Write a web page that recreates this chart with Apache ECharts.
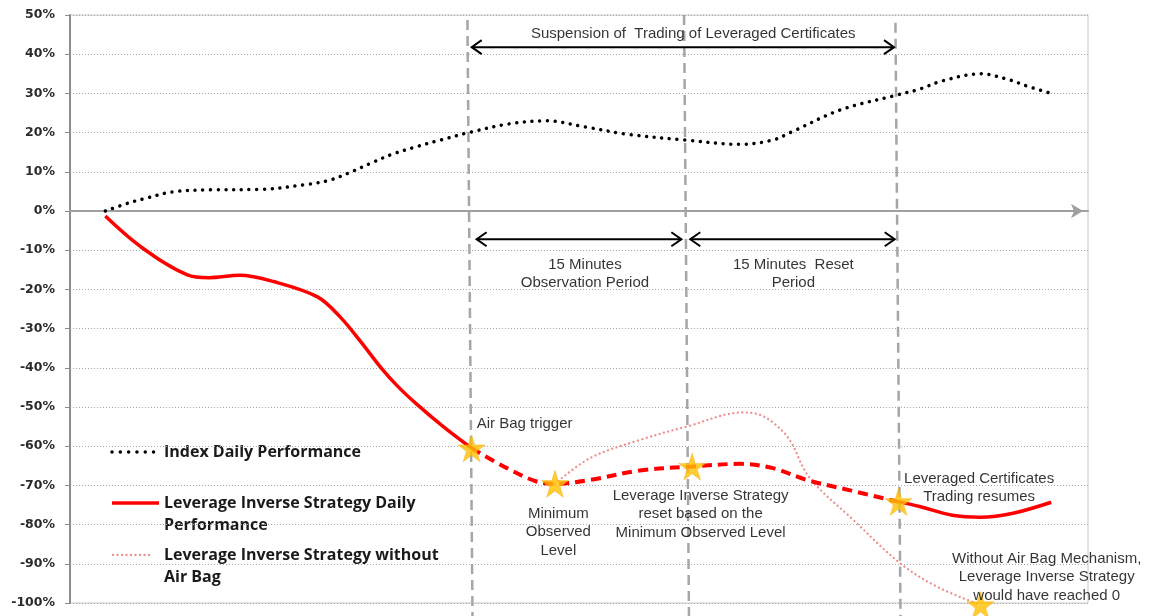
<!DOCTYPE html>
<html><head><meta charset="utf-8">
<script src="https://cdn.jsdelivr.net/npm/echarts@6/dist/echarts.min.js"></script>
<style>html,body{margin:0;padding:0;background:#fff}#c{width:1151px;height:616px}</style>
</head><body><div id="c"></div>
<script>
// ---- axis setup (x in minutes, y in %) ----
const yMin = -100, yMax = 50, yStep = 10;
const xMin = 0, xMax = 72;

// ---- series values [minute, %] ----
const indexPerf = [[2.5,0],[4.1,2],[5.2,3.1],[7.3,4.9],[10,5.4],[13.4,5.5],[16.8,6.8],[18.4,7.9],[19.9,10],[21.4,12.4],[22.8,14.5],[24.5,16.4],[26.2,18.1],[28.2,20],[31,22.2],[33.7,23],[36.5,21.4],[39.4,19.6],[43.5,18.1],[47.4,17],[49.7,18.1],[51,20.1],[54.5,25.8],[58.5,29.6],[60.1,31.1],[61.7,33.2],[64.4,35],[66.5,33.4],[67.5,32.1],[69.2,30.2]];
const strategyBefore = [[2.5,-1.3],[5,-9.1],[8.3,-16.3],[9.8,-17],[12,-16.4],[14.4,-18],[17.5,-21.9],[19.1,-27],[20.6,-33.5],[22,-40],[23.2,-44.8],[24.5,-49.2],[26.4,-55],[28.4,-60.5]];
const strategyAirBag = [[28.4,-60.5],[30.9,-65.6],[33,-69],[34.3,-69.6],[36.8,-68.6],[40.3,-66.2],[44,-65.2],[47.4,-64.5],[49.7,-65.6],[52.1,-68.6],[54.5,-70.7],[58.6,-74.2]];
const strategyAfter = [[58.6,-74.2],[60.1,-75.4],[62.4,-77.6],[64.4,-78.1],[66.7,-77.1],[69.4,-74.3]];
const withoutAirBag = [[34.3,-69.6],[36.8,-63],[40.3,-58.4],[43.6,-55],[47.6,-51.4],[48.8,-52],[49.8,-54.2],[50.9,-58.4],[52.3,-68],[55.4,-78.8],[58.7,-89.8],[61.3,-95.8],[64.4,-100.5]];
const keyEvents = [[28.4,-60.5],[34.3,-69.6],[44,-65.2],[58.6,-74.2],[64.4,-100.5]];

// ---- reference lines: [x at top, x at bottom, top %] ----
const phaseLines = [[28.11,28.47,48.7],[43.43,43.78,50],[58.38,58.74,48]];
// ---- period arrows: [x start, x end, level %] ----
const periodArrows = [[28.34,58.35,41.8],[28.69,43.31,-7.2],[43.8,58.4,-7.2]];

// ---- annotations ----
const noteTexts = [
  'Suspension of  Trading of Leveraged Certificates',
  '15 Minutes\nObservation Period',
  '15 Minutes  Reset\nPeriod',
  'Minimum\nObserved\nLevel',
  'Leverage Inverse Strategy\nreset based on the\nMinimum Observed Level',
  'Leveraged Certificates\nTrading resumes',
  'Without Air Bag Mechanism,\nLeverage Inverse Strategy\nwould have reached 0'
];
const noteAnchors = [[44.08,45.3],[36.42,-16.1],[51.16,-16.1],[34.54,-81.9],[44.6,-77.3],[64.3,-70.7],[69.08,-93.4]];
const triggerText = 'Air Bag trigger';
const triggerAnchor = [28.76,-54.3];

const seriesNames = ['Index Daily Performance','Leverage Inverse Strategy Daily\nPerformance','Leverage Inverse Strategy without\nAir Bag'];

const starPath = 'path://M50,0 L61.2,34.5 L97.6,34.5 L68.2,55.9 L79.4,90.5 L50,69.1 L20.6,90.5 L31.8,55.9 L2.4,34.5 L38.8,34.5 Z';
const noteFont = {fontFamily:'Liberation Sans', fontSize:15, lineHeight:18.4, color:'#000'};

const chart = echarts.init(document.getElementById('c'));
chart.setOption({
  animation:false,
  backgroundColor:'#fff',
  grid:{left:70,right:63,top:15,bottom:13,show:true,borderColor:'#c8c8c8',borderWidth:1,backgroundColor:'transparent'},
  xAxis:{type:'value',min:xMin,max:xMax,
    axisLine:{show:true,onZero:true,symbol:['none','arrow'],symbolSize:[11,12],symbolOffset:[0,-5],lineStyle:{color:'#a0a0a0',width:2}},
    axisTick:{show:false},axisLabel:{show:false},splitLine:{show:false}},
  yAxis:{type:'value',min:yMin,max:yMax,interval:yStep,
    axisLine:{show:true,lineStyle:{color:'#8c8c8c',width:2}},
    axisTick:{show:true,length:5,lineStyle:{color:'#8c8c8c',width:1}},
    axisLabel:{formatter:'{value}%',margin:15,fontFamily:'DejaVu Sans',fontWeight:'bold',fontSize:12.5,color:'#2b2b2b'},
    splitLine:{show:true,lineStyle:{color:'#a8a8a8',width:1,type:[1,2]}}},
  graphic:[
    {type:'line',shape:{x1:112,y1:452,x2:155,y2:452},style:{stroke:'#000',lineWidth:3.5,lineDash:[0.01,8.3],lineCap:'round'}},
    {type:'text',x:164,y:441,style:{text:seriesNames[0],fontFamily:'Open Sans',fontWeight:'bold',fontSize:16,lineHeight:22.5,fill:'#1a1a1a',verticalAlign:'top'}},
    {type:'line',shape:{x1:112,y1:503,x2:159,y2:503},style:{stroke:'#ff0000',lineWidth:3.5}},
    {type:'text',x:164,y:492,style:{text:seriesNames[1],fontFamily:'Open Sans',fontWeight:'bold',fontSize:16,lineHeight:22.5,fill:'#1a1a1a',verticalAlign:'top'}},
    {type:'line',shape:{x1:113,y1:555,x2:153,y2:555},style:{stroke:'#f08c8c',lineWidth:2.3,lineDash:[0.01,4.5],lineCap:'round'}},
    {type:'text',x:164,y:544,style:{text:seriesNames[2],fontFamily:'Open Sans',fontWeight:'bold',fontSize:16,lineHeight:22.5,fill:'#1a1a1a',verticalAlign:'top'}}
  ],
  series:[
    {type:'custom',name:'phases',z:1,silent:true,data:phaseLines,encode:{x:[0,1],y:2},
      renderItem:function(params,api){
        const t=api.coord([api.value(0),api.value(2)]);
        const b=api.coord([api.value(1),yMin-4]);
        return {type:'line',shape:{x1:t[0],y1:t[1],x2:b[0],y2:b[1]},style:{stroke:'#a6a6a6',lineWidth:2.5,lineDash:[10,6]}};
      }},
    {type:'line',name:seriesNames[0],data:indexPerf,smooth:0.35,showSymbol:false,z:3,
      lineStyle:{color:'#000',width:3.5,type:[0.01,7.7],cap:'round'}},
    {type:'line',name:seriesNames[1],data:strategyBefore,smooth:0.35,showSymbol:false,z:3,
      lineStyle:{color:'#ff0000',width:3.5}},
    {type:'line',name:'airbag',data:strategyAirBag,smooth:0.35,showSymbol:false,z:3,
      lineStyle:{color:'#ff0000',width:4,type:[10,6]}},
    {type:'line',name:'after',data:strategyAfter,smooth:0.35,showSymbol:false,z:3,
      lineStyle:{color:'#ff0000',width:3.5}},
    {type:'line',name:seriesNames[2],data:withoutAirBag,smooth:0.35,showSymbol:false,z:2,clip:false,
      lineStyle:{color:'#f08c8c',width:2.3,type:[0.01,4.5],cap:'round'}},
    {type:'custom',name:'arrows',z:4,silent:true,data:periodArrows,encode:{x:[0,1],y:2},
      renderItem:function(params,api){
        const a=api.coord([api.value(0),api.value(2)]);
        const b=api.coord([api.value(1),api.value(2)]);
        const st={stroke:'#000',lineWidth:2,fill:null};
        return {type:'group',children:[
          {type:'line',shape:{x1:a[0]+1,y1:a[1],x2:b[0]-1,y2:b[1]},style:st},
          {type:'polyline',shape:{points:[[a[0]+11,a[1]-7],[a[0]+1,a[1]],[a[0]+11,a[1]+7]]},style:st},
          {type:'polyline',shape:{points:[[b[0]-11,b[1]-7],[b[0]-1,b[1]],[b[0]-11,b[1]+7]]},style:st}
        ]};
      }},
    {type:'scatter',name:'events',data:keyEvents,symbol:starPath,symbolSize:27,z:6,clip:false,
      itemStyle:{color:'#ffc000',borderColor:'#f5a800',borderWidth:0.5}},
    {type:'scatter',name:'notes',symbolSize:0,z:7,clip:false,silent:true,
      data:noteAnchors.map(function(p,i){return {value:p,name:noteTexts[i]};}),
      label:Object.assign({show:true,position:'inside',align:'center',verticalAlign:'middle',formatter:function(p){return p.name;}},noteFont)},
    {type:'scatter',name:'trigger',symbolSize:0,z:7,clip:false,silent:true,
      data:[{value:triggerAnchor,name:triggerText}],
      label:Object.assign({show:true,position:'right',distance:0,formatter:function(p){return p.name;}},noteFont)}
  ]
});
</script></body></html>
